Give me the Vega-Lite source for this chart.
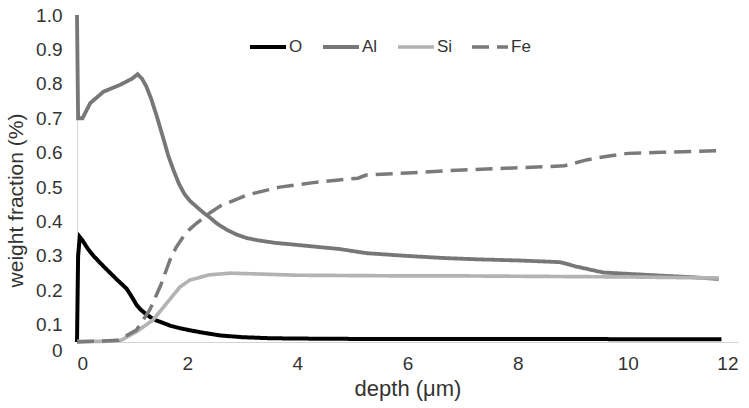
{
  "$schema": "https://vega.github.io/schema/vega-lite/v6.json",
  "width": 661,
  "height": 327,
  "autosize": {"type": "none"},
  "padding": {"left": 77, "top": 15, "right": 11, "bottom": 66},
  "background": "white",
  "config": {"view": {"stroke": null}, "font": "Liberation Sans"},
  "data": {"values": [
    {"element": "O", "depth": 0, "wf": 0.05},
    {"element": "O", "depth": 0.02, "wf": 0.30},
    {"element": "O", "depth": 0.05, "wf": 0.355},
    {"element": "O", "depth": 0.1, "wf": 0.345},
    {"element": "O", "depth": 0.2, "wf": 0.32},
    {"element": "O", "depth": 0.3, "wf": 0.30},
    {"element": "O", "depth": 0.48, "wf": 0.27},
    {"element": "O", "depth": 0.72, "wf": 0.232},
    {"element": "O", "depth": 0.9, "wf": 0.205},
    {"element": "O", "depth": 1.0, "wf": 0.18},
    {"element": "O", "depth": 1.08, "wf": 0.158},
    {"element": "O", "depth": 1.15, "wf": 0.145},
    {"element": "O", "depth": 1.26, "wf": 0.13},
    {"element": "O", "depth": 1.4, "wf": 0.115},
    {"element": "O", "depth": 1.57, "wf": 0.105},
    {"element": "O", "depth": 1.7, "wf": 0.097},
    {"element": "O", "depth": 1.87, "wf": 0.09},
    {"element": "O", "depth": 2.05, "wf": 0.084},
    {"element": "O", "depth": 2.29, "wf": 0.077},
    {"element": "O", "depth": 2.6, "wf": 0.069},
    {"element": "O", "depth": 3.0, "wf": 0.064},
    {"element": "O", "depth": 3.5, "wf": 0.061},
    {"element": "O", "depth": 4.0, "wf": 0.06},
    {"element": "O", "depth": 5.0, "wf": 0.059},
    {"element": "O", "depth": 6.0, "wf": 0.059},
    {"element": "O", "depth": 7.0, "wf": 0.059},
    {"element": "O", "depth": 8.0, "wf": 0.059},
    {"element": "O", "depth": 9.0, "wf": 0.059},
    {"element": "O", "depth": 10.0, "wf": 0.058},
    {"element": "O", "depth": 11.0, "wf": 0.058},
    {"element": "O", "depth": 11.7, "wf": 0.058},

    {"element": "Al", "depth": 0, "wf": 1.0},
    {"element": "Al", "depth": 0.02, "wf": 0.70},
    {"element": "Al", "depth": 0.1, "wf": 0.70},
    {"element": "Al", "depth": 0.24, "wf": 0.744},
    {"element": "Al", "depth": 0.48, "wf": 0.777},
    {"element": "Al", "depth": 0.78, "wf": 0.797},
    {"element": "Al", "depth": 1.0, "wf": 0.815},
    {"element": "Al", "depth": 1.1, "wf": 0.828},
    {"element": "Al", "depth": 1.18, "wf": 0.815},
    {"element": "Al", "depth": 1.26, "wf": 0.792},
    {"element": "Al", "depth": 1.35, "wf": 0.755},
    {"element": "Al", "depth": 1.45, "wf": 0.705},
    {"element": "Al", "depth": 1.57, "wf": 0.64},
    {"element": "Al", "depth": 1.66, "wf": 0.59},
    {"element": "Al", "depth": 1.75, "wf": 0.55},
    {"element": "Al", "depth": 1.85, "wf": 0.51},
    {"element": "Al", "depth": 1.95, "wf": 0.48},
    {"element": "Al", "depth": 2.05, "wf": 0.46},
    {"element": "Al", "depth": 2.17, "wf": 0.443},
    {"element": "Al", "depth": 2.3, "wf": 0.425},
    {"element": "Al", "depth": 2.41, "wf": 0.412},
    {"element": "Al", "depth": 2.55, "wf": 0.393},
    {"element": "Al", "depth": 2.72, "wf": 0.376},
    {"element": "Al", "depth": 2.9, "wf": 0.362},
    {"element": "Al", "depth": 3.08, "wf": 0.352},
    {"element": "Al", "depth": 3.3, "wf": 0.345},
    {"element": "Al", "depth": 3.6, "wf": 0.338},
    {"element": "Al", "depth": 4.0, "wf": 0.332},
    {"element": "Al", "depth": 4.77, "wf": 0.32},
    {"element": "Al", "depth": 5.26, "wf": 0.308},
    {"element": "Al", "depth": 6.0, "wf": 0.30},
    {"element": "Al", "depth": 6.65, "wf": 0.294},
    {"element": "Al", "depth": 7.3, "wf": 0.29},
    {"element": "Al", "depth": 8.0, "wf": 0.287},
    {"element": "Al", "depth": 8.77, "wf": 0.282},
    {"element": "Al", "depth": 9.07, "wf": 0.269},
    {"element": "Al", "depth": 9.55, "wf": 0.252},
    {"element": "Al", "depth": 10.0, "wf": 0.248},
    {"element": "Al", "depth": 10.58, "wf": 0.243},
    {"element": "Al", "depth": 11.2, "wf": 0.238},
    {"element": "Al", "depth": 11.65, "wf": 0.233},

    {"element": "Si", "depth": 0, "wf": 0.052},
    {"element": "Si", "depth": 0.5, "wf": 0.052},
    {"element": "Si", "depth": 0.8, "wf": 0.055},
    {"element": "Si", "depth": 1.08, "wf": 0.08},
    {"element": "Si", "depth": 1.38, "wf": 0.114},
    {"element": "Si", "depth": 1.63, "wf": 0.163},
    {"element": "Si", "depth": 1.87, "wf": 0.21},
    {"element": "Si", "depth": 2.05, "wf": 0.23},
    {"element": "Si", "depth": 2.4, "wf": 0.245},
    {"element": "Si", "depth": 2.78, "wf": 0.25},
    {"element": "Si", "depth": 3.2, "wf": 0.248},
    {"element": "Si", "depth": 4.0, "wf": 0.244},
    {"element": "Si", "depth": 5.0, "wf": 0.243},
    {"element": "Si", "depth": 6.0, "wf": 0.242},
    {"element": "Si", "depth": 7.0, "wf": 0.242},
    {"element": "Si", "depth": 8.0, "wf": 0.241},
    {"element": "Si", "depth": 9.0, "wf": 0.24},
    {"element": "Si", "depth": 10.0, "wf": 0.239},
    {"element": "Si", "depth": 11.0, "wf": 0.237},
    {"element": "Si", "depth": 11.65, "wf": 0.236},

    {"element": "Fe", "depth": 0, "wf": 0.05},
    {"element": "Fe", "depth": 0.75, "wf": 0.055},
    {"element": "Fe", "depth": 1.08, "wf": 0.085},
    {"element": "Fe", "depth": 1.32, "wf": 0.143},
    {"element": "Fe", "depth": 1.51, "wf": 0.211},
    {"element": "Fe", "depth": 1.69, "wf": 0.289},
    {"element": "Fe", "depth": 1.8, "wf": 0.325},
    {"element": "Fe", "depth": 1.93, "wf": 0.356},
    {"element": "Fe", "depth": 2.05, "wf": 0.378},
    {"element": "Fe", "depth": 2.17, "wf": 0.395},
    {"element": "Fe", "depth": 2.41, "wf": 0.425},
    {"element": "Fe", "depth": 2.6, "wf": 0.445},
    {"element": "Fe", "depth": 3.08, "wf": 0.477},
    {"element": "Fe", "depth": 3.68, "wf": 0.50},
    {"element": "Fe", "depth": 4.29, "wf": 0.513},
    {"element": "Fe", "depth": 4.71, "wf": 0.52},
    {"element": "Fe", "depth": 5.1, "wf": 0.526},
    {"element": "Fe", "depth": 5.25, "wf": 0.535},
    {"element": "Fe", "depth": 6.0, "wf": 0.541},
    {"element": "Fe", "depth": 7.0, "wf": 0.55},
    {"element": "Fe", "depth": 8.0, "wf": 0.556},
    {"element": "Fe", "depth": 8.85, "wf": 0.562},
    {"element": "Fe", "depth": 9.25, "wf": 0.579},
    {"element": "Fe", "depth": 9.6, "wf": 0.589},
    {"element": "Fe", "depth": 10.0, "wf": 0.598},
    {"element": "Fe", "depth": 10.6, "wf": 0.601},
    {"element": "Fe", "depth": 11.65, "wf": 0.606}
  ]},
  "mark": {"type": "line", "interpolate": "linear"},
  "encoding": {
    "x": {
      "field": "depth", "type": "quantitative",
      "scale": {"domain": [0, 12], "nice": false, "zero": false},
      "axis": {
        "values": [0, 2, 4, 6, 8, 10, 12],
        "title": "depth (μm)",
        "grid": false, "ticks": false,
        "domainColor": "#d4d4d4", "domainWidth": 1,
        "labelFontSize": 19, "labelColor": "#333333", "labelPadding": 12,
        "titleFontSize": 22, "titleFontWeight": "normal", "titleColor": "#333333", "titlePadding": 5
      }
    },
    "y": {
      "field": "wf", "type": "quantitative",
      "scale": {"domain": [0.05, 1.0], "nice": false, "zero": false},
      "axis": {
        "values": [0.05, 0.1, 0.2, 0.3, 0.4, 0.5, 0.6, 0.7, 0.8, 0.9, 1.0],
        "labelExpr": "datum.value < 0.07 ? '0' : format(datum.value, '.1f')",
        "labelOffset": {"condition": {"test": "datum.value < 0.07", "value": 8}, "value": 0},
        "title": "weight fraction (%)",
        "grid": false, "ticks": false,
        "domainColor": "#d4d4d4", "domainWidth": 1,
        "labelFontSize": 19, "labelColor": "#333333", "labelPadding": 15,
        "titleFontSize": 21, "titleFontWeight": "normal", "titleColor": "#333333",
        "titleX": -51, "titleY": 185
      }
    },
    "color": {
      "field": "element", "type": "nominal",
      "scale": {"domain": ["O", "Al", "Si", "Fe"], "range": ["#000000", "#777777", "#b3b3b3", "#7a7a7a"]},
      "legend": {
        "title": null, "orient": "none", "direction": "horizontal",
        "legendX": 171, "legendY": 12,
        "symbolType": "stroke", "symbolSize": 1296,
        "labelFontSize": 17, "labelColor": "#333333", "labelOffset": 1,
        "columnPadding": 12, "padding": 0,
        "encode": {"symbols": {"update": {"strokeDash": {"signal": "datum.value === 'Fe' ? [8, 6] : [1, 0]"}}}}
      }
    },
    "strokeDash": {
      "field": "element", "type": "nominal",
      "scale": {"domain": ["O", "Al", "Si", "Fe"], "range": [[1, 0], [1, 0], [1, 0], [17, 8]]}
    },
    "strokeWidth": {
      "field": "element", "type": "nominal",
      "scale": {"domain": ["O", "Al", "Si", "Fe"], "range": [4, 3.5, 2.5, 2.5]}
    }
  }
}
